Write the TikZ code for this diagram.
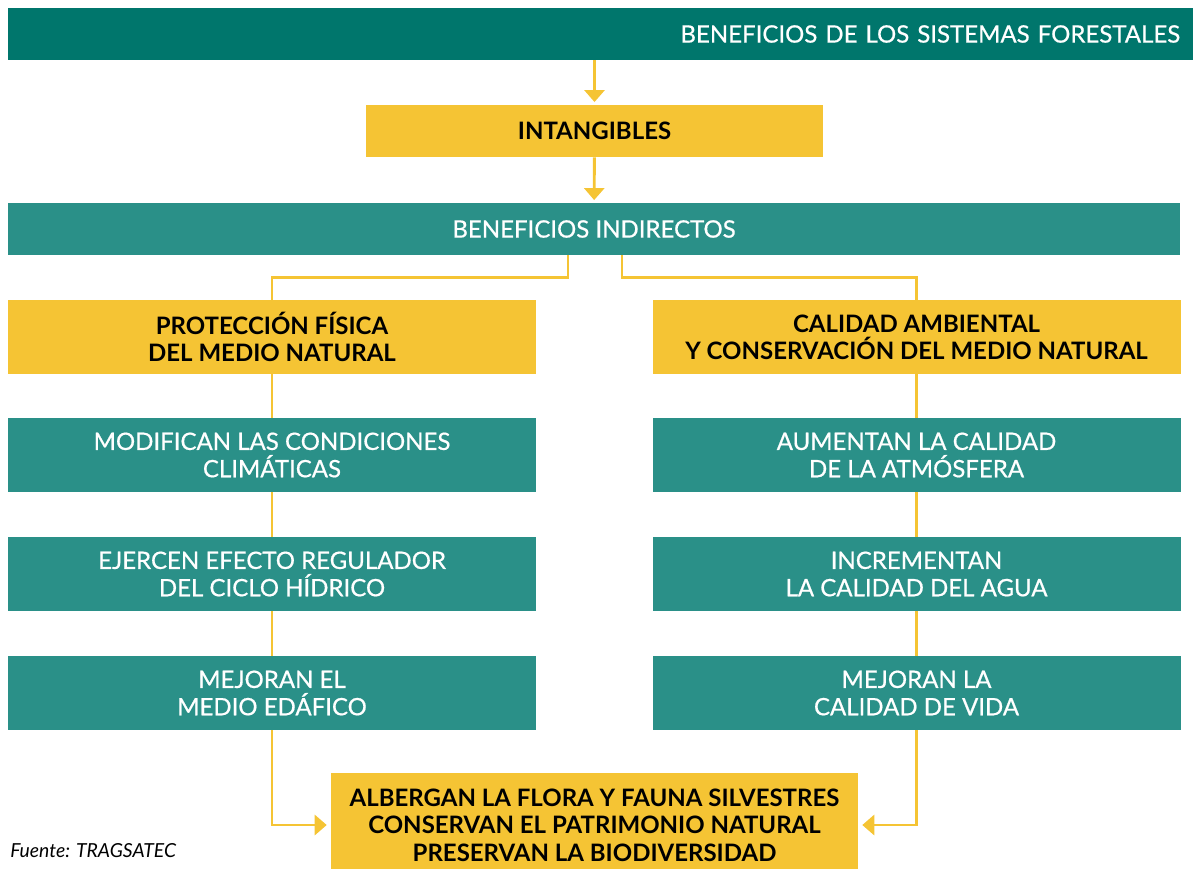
\documentclass[tikz,border=0pt]{standalone}
\usepackage{fontspec}
\setmainfont{Lato}
\newfontfamily\medfont{Lato}[FakeBold=0.6]
\usetikzlibrary{arrows.meta, positioning}
\definecolor{forestdark}{HTML}{00766C}
\definecolor{forestmid}{HTML}{2A9088}
\definecolor{goldbox}{HTML}{F5C434}

\begin{document}
\begin{tikzpicture}[x=0.75pt, y=-0.75pt,
    every node/.style={inner sep=0pt, align=center, font=\fontsize{18}{20.5}\selectfont},
    greenbox/.style={fill=forestmid, text=white, font=\fontsize{18}{20.5}\selectfont\medfont, minimum width=396pt, minimum height=55.5pt},
    yellowbox/.style={fill=goldbox, text=black, font=\fontsize{18}{20.5}\selectfont\bfseries, minimum width=396pt, minimum height=55.5pt},
    link/.style={draw=goldbox, line width=2.2pt},
    arrow/.style={link, -{Triangle[width=15pt, length=9pt]}}]
    \useasboundingbox (0,0) rectangle (1195,868);

    % boxes
    \node[fill=forestdark, text=white, font=\fontsize{18}{20.5}\selectfont\medfont, minimum height=39pt, text width=869.25pt, align=right, inner xsep=9.75pt] (title) at (600.5,34) {BENEFICIOS DE LOS SISTEMAS FORESTALES};
    \node[yellowbox, minimum width=342.75pt, minimum height=39pt] (intang) at (594.5,131) {INTANGIBLES};
    \node[greenbox, minimum width=879pt, minimum height=39pt] (ind) at (594,229) {BENEFICIOS INDIRECTOS};

    \node[yellowbox] (prot) at (272,337) {PROTECCIÓN FÍSICA\\DEL MEDIO NATURAL};
    \node[greenbox] (clima) at (272,455) {MODIFICAN LAS CONDICIONES\\CLIMÁTICAS};
    \node[greenbox] (hidro) at (272,574) {EJERCEN EFECTO REGULADOR\\DEL CICLO HÍDRICO};
    \node[greenbox] (edaf) at (272,693) {MEJORAN EL\\MEDIO EDÁFICO};

    \node[yellowbox] (amb) at (916.5,337) {CALIDAD AMBIENTAL\\Y CONSERVACIÓN DEL MEDIO NATURAL};
    \node[greenbox] (atmos) at (916.5,455) {AUMENTAN LA CALIDAD\\DE LA ATMÓSFERA};
    \node[greenbox] (agua) at (916.5,574) {INCREMENTAN\\LA CALIDAD DEL AGUA};
    \node[greenbox] (vida) at (916.5,693) {MEJORAN LA\\CALIDAD DE VIDA};

    \node[yellowbox, minimum width=395.25pt, minimum height=78pt] (alb) at (594.5,825) {ALBERGAN LA FLORA Y FAUNA SILVESTRES\\CONSERVAN EL PATRIMONIO NATURAL\\PRESERVAN LA BIODIVERSIDAD};

    \node[anchor=base west, font=\fontsize{14.5}{16}\selectfont\itshape] (fuente) at (10,857) {Fuente: TRAGSATEC};

    % connectors
    \draw[arrow, shorten >=2pt] (title.south -| intang.north) -- (intang.north);
    \draw[arrow, shorten >=2pt] (intang) -- (ind);
    \draw[link] ([xshift=-19.5pt]ind.south) -- ++(0,22) -| (prot.north);
    \draw[link] ([xshift=21pt]ind.south) -- ++(0,22) -| (amb.north);
    \draw[link] (prot) -- (clima);
    \draw[link] (clima) -- (hidro);
    \draw[link] (hidro) -- (edaf);
    \draw[link] (amb) -- (atmos);
    \draw[link] (atmos) -- (agua);
    \draw[link] (agua) -- (vida);
    \draw[arrow, shorten >=3pt] (edaf.south) |- (alb.west);
    \draw[arrow, shorten >=3pt] (vida.south) |- (alb.east);
\end{tikzpicture}
\end{document}
